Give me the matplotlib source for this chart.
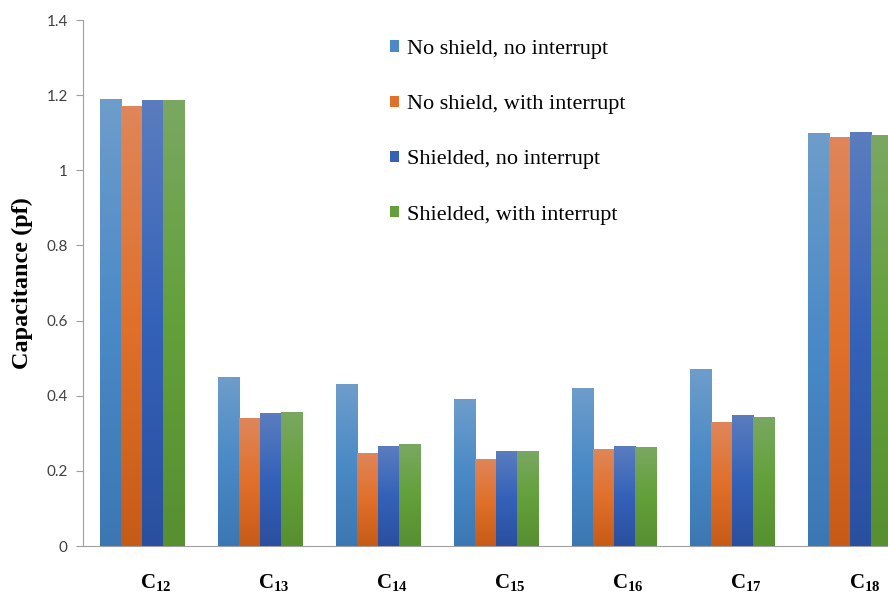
import numpy as np
import matplotlib
matplotlib.use("Agg")
import matplotlib.pyplot as plt
import matplotlib.transforms as mtrans
from matplotlib.colors import LinearSegmentedColormap

plt.rcParams["mathtext.fontset"] = "custom"
plt.rcParams["mathtext.rm"] = "Liberation Serif:bold"
plt.rcParams["mathtext.bf"] = "Liberation Serif:bold"
plt.rcParams["mathtext.it"] = "Liberation Serif:bold"

# ---- data -------------------------------------------------------------------
categories = ["C$_{12}$", "C$_{13}$", "C$_{14}$", "C$_{15}$", "C$_{16}$", "C$_{17}$", "C$_{18}$"]
series_names = ["No shield, no interrupt", "No shield, with interrupt",
                "Shielded, no interrupt", "Shielded, with interrupt"]
no_shield_no_int = [1.19, 0.45, 0.43, 0.39, 0.42, 0.47, 1.10]
no_shield_int = [1.17, 0.34, 0.248, 0.232, 0.258, 0.33, 1.089]
shielded_no_int = [1.187, 0.353, 0.266, 0.253, 0.266, 0.349, 1.102]
shielded_int = [1.187, 0.357, 0.271, 0.253, 0.264, 0.344, 1.094]
yticks = [0, 0.2, 0.4, 0.6, 0.8, 1.0, 1.2, 1.4]
ytick_labels = ["0", "0.2", "0.4", "0.6", "0.8", "1", "1.2", "1.4"]

# (top, middle, bottom) gradient colours per series, Excel style
GRAD = [("#6e9dcb", "#4a8ac6", "#3b77b3"),
        ("#df865a", "#e0702a", "#c65b17"),
        ("#5b7dbf", "#3462b9", "#2a4f9f"),
        ("#7aa862", "#63a03a", "#578f31")]

fig = plt.figure(figsize=(8.88, 5.92), dpi=100)
ax = fig.add_axes([83 / 888, 46 / 592, 805 / 888, 526 / 592])

x = np.arange(len(categories))
w = 0.18
data = [no_shield_no_int, no_shield_int, shielded_no_int, shielded_int]
grad = np.linspace(0, 1, 256).reshape(-1, 1)
for k, (vals, cols) in enumerate(zip(data, GRAD)):
    bars = ax.bar(x + (k - 1.5) * w, vals, w, color=cols[1], label=series_names[k],
                  edgecolor="none", zorder=2)
    cmap = LinearSegmentedColormap.from_list(f"g{k}", [cols[2], cols[1], cols[0]])
    for b in bars:
        x0, y0 = b.get_x(), b.get_y()
        im = ax.imshow(grad, cmap=cmap, origin="lower", aspect="auto", zorder=3,
                       extent=(x0, x0 + b.get_width(), y0, y0 + b.get_height()))
        im.set_clip_path(b)

ax.set_xlim(-0.5, 6.32)
ax.set_ylim(0, 1.4)
ax.set_yticks(yticks)
ax.set_yticklabels(ytick_labels, fontfamily="Lato", fontsize=11, color="#404040")
ax.tick_params(axis="y", length=5, color="#a0a0a0", pad=6)
ax.set_xticks(x)
ax.set_xticklabels(categories, fontfamily="Liberation Serif", fontsize=15, fontweight="bold")
ax.tick_params(axis="x", length=0, pad=19)
off = mtrans.ScaledTranslation(14 / 100, 0, fig.dpi_scale_trans)
for lbl in ax.get_xticklabels():
    lbl.set_transform(lbl.get_transform() + off)

for s in ("top", "right"):
    ax.spines[s].set_visible(False)
ax.spines["left"].set_color("#a0a0a0")
ax.spines["bottom"].set_color("#a0a0a0")

ax.set_ylabel("Capacitance (pf)", fontfamily="Liberation Serif", fontsize=17.5,
              fontweight="bold")
ax.yaxis.set_label_coords(-0.062, 0.5)

ax.legend(loc="upper left", bbox_to_anchor=(0.3565, 1.0), frameon=False,
          prop={"family": "Liberation Serif", "size": 16}, labelspacing=1.63,
          handlelength=0.4, handleheight=0.4, handletextpad=0.35)

fig.savefig("out.png", dpi=100, facecolor="white")
